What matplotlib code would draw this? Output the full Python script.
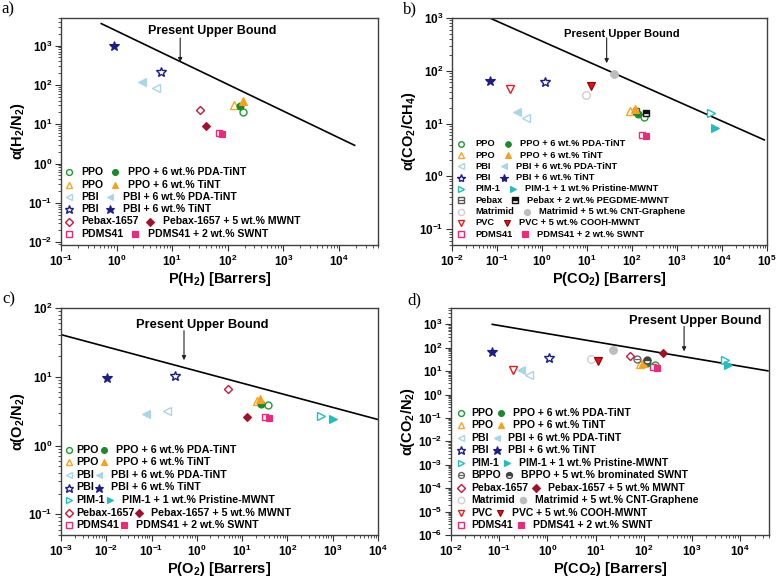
import numpy as np
import matplotlib
matplotlib.use('Agg')
import matplotlib.pyplot as plt
from matplotlib.lines import Line2D
from matplotlib.transforms import IdentityTransform
from matplotlib.ticker import LogLocator, NullFormatter

plt.rcParams.update({
    'font.family': ['Liberation Sans', 'DejaVu Sans'],
    'font.weight': 'bold',
    'mathtext.fontset': 'custom',
    'mathtext.rm': 'Liberation Sans:bold',
    'mathtext.bf': 'Liberation Sans:bold',
    'mathtext.it': 'Liberation Sans:bold:italic',
    'mathtext.default': 'bf',
})

# ---------------- DATA ----------------
# Panel a: H2/N2
a_keys = ['PPO_PDA', 'PPO_TiNT', 'PBI_PDA', 'PBI_TiNT', 'Pebax1657', 'PDMS']
a_open_labels = ['PPO', 'PPO', 'PBI', 'PBI', 'Pebax-1657', 'PDMS41']
a_filled_labels = ['PPO + 6 wt.% PDA-TiNT', 'PPO + 6 wt.% TiNT', 'PBI + 6 wt.% PDA-TiNT',
                   'PBI + 6 wt.% TiNT', 'Pebax-1657 + 5 wt.% MWNT', 'PDMS41 + 2 wt.% SWNT']
a_open_x = [190, 131, 5.2, 6.3, 32, 69]
a_open_y = [21, 31, 85, 218, 23.6, 6.0]
a_filled_x = [166, 190, 2.9, 0.89, 41, 79]
a_filled_y = [28.5, 40, 119, 950, 9.2, 5.6]
a_bound_x = [0.53, 1.9e4]
a_bound_y = [3600, 2.9]

# Panel b: CO2/CH4
b_keys = ['PPO_PDA', 'PPO_TiNT', 'PBI_PDA', 'PBI_TiNT', 'PIM', 'PebaxB', 'Matrimid', 'PVC', 'PDMS']
b_open_labels = ['PPO', 'PPO', 'PBI', 'PBI', 'PIM-1', 'Pebax', 'Matrimid', 'PVC', 'PDMS41']
b_filled_labels = ['PPO + 6 wt.% PDA-TiNT', 'PPO + 6 wt.% TiNT', 'PBI + 6 wt.% PDA-TiNT',
                   'PBI + 6 wt.% TiNT', 'PIM-1 + 1 wt.% Pristine-MWNT', 'Pebax + 2 wt.% PEGDME-MWNT',
                   'Matrimid + 5 wt.% CNT-Graphene', 'PVC + 5 wt.% COOH-MWNT', 'PDMS41 + 2 wt.% SWNT']
b_open_x = [186, 92, 0.44, 1.15, 5800, 120, 9.4, 0.19, 167]
b_open_y = [13.2, 17.2, 13, 60, 16, 17.5, 35, 45, 6.1]
b_filled_x = [134, 118, 0.28, 0.069, 6900, 209, 39, 12, 200]
b_filled_y = [14.9, 18.8, 16.8, 63, 8.3, 15.8, 88, 51, 5.7]
b_bound_x = [0.069, 8.7e4]
b_bound_y = [1000, 4.9]

# Panel c: O2/N2
c_keys = ['PPO_PDA', 'PPO_TiNT', 'PBI_PDA', 'PBI_TiNT', 'PIM', 'Pebax1657', 'PDMS']
c_open_labels = ['PPO', 'PPO', 'PBI', 'PBI', 'PIM-1', 'Pebax-1657', 'PDMS41']
c_filled_labels = ['PPO + 6 wt.% PDA-TiNT', 'PPO + 6 wt.% TiNT', 'PBI + 6 wt.% PDA-TiNT',
                   'PBI + 6 wt.% TiNT', 'PIM-1 + 1 wt.% Pristine-MWNT', 'Pebax-1657 + 5 wt.% MWNT',
                   'PDMS41 + 2 wt.% SWNT']
c_open_x = [37, 21.7, 0.22, 0.33, 556, 4.9, 32]
c_open_y = [3.9, 4.5, 3.2, 10.1, 2.7, 6.7, 2.6]
c_filled_x = [26, 25, 0.074, 0.0106, 1000, 12.6, 39]
c_filled_y = [4.0, 4.8, 2.9, 9.7, 2.4, 2.6, 2.5]
c_bound_x = [1e-3, 1e4]
c_bound_y = [41, 2.39]

# Panel d: CO2/N2
d_keys = ['PPO_PDA', 'PPO_TiNT', 'PBI_PDA', 'PBI_TiNT', 'PIM', 'BPPO', 'Pebax1657', 'Matrimid', 'PVC', 'PDMS']
d_open_labels = ['PPO', 'PPO', 'PBI', 'PBI', 'PIM-1', 'BPPO', 'Pebax-1657', 'Matrimid', 'PVC', 'PDMS41']
d_filled_labels = ['PPO + 6 wt.% PDA-TiNT', 'PPO + 6 wt.% TiNT', 'PBI + 6 wt.% PDA-TiNT',
                   'PBI + 6 wt.% TiNT', 'PIM-1 + 1 wt.% Pristine-MWNT', 'BPPO + 5 wt.% brominated SWNT',
                   'Pebax-1657 + 5 wt.% MWNT', 'Matrimid + 5 wt.% CNT-Graphene',
                   'PVC + 5 wt.% COOH-MWNT', 'PDMS41 + 2 wt.% SWNT']
d_open_x = [168, 82, 0.42, 1.1, 4900, 72, 53, 8.2, 0.19, 155]
d_open_y = [19, 21, 7.1, 38, 29, 34, 44, 34, 11, 15]
d_filled_x = [120, 95, 0.28, 0.072, 5700, 117, 250, 23, 11.5, 185]
d_filled_y = [22, 22, 11.7, 69, 17.5, 30.5, 61, 82, 28.5, 13.8]
d_bound_x = [0.072, 3.8e4]
d_bound_y = [1000, 10.3]

# ---------------- STYLES ----------------
STY = {
    'PPO_PDA':   dict(m='o', c='#1f9a33', cf='#1a8a2c', s=5.0),
    'PPO_TiNT':  dict(m='^', c='#f5a623', cf='#f5a11a', s=5.5),
    'PBI_PDA':   dict(m='<', c='#a9d6e6', cf='#a9d6e6', s=5.5),
    'PBI_TiNT':  dict(m='*', c='#1c1c8a', cf='#1c1c8a', s=7.5),
    'PIM':       dict(m='>', c='#1fbfc0', cf='#1fbfc0', s=5.5),
    'PebaxB':    dict(m='s', c='#555555', cf='#111111', s=4.8, half=True),
    'BPPO':      dict(m='o', c='#666666', cf='#444444', s=5.0, half=True),
    'Pebax1657': dict(m='D', c='#c8163f', cf='#a50f2a', s=4.3),
    'Matrimid':  dict(m='o', c='#cfcfcf', cf='#bdbdbd', s=5.5),
    'PVC':       dict(m='v', c='#e81a1a', cf='#e8101a', s=5.5),
    'PDMS':      dict(m='s', c='#f0287a', cf='#f0287a', s=4.8),
}


def draw_marker(add, x, y, key, filled, scale=1.0, **kw):
    st = STY[key]
    ms = st['s'] * scale
    if not filled:
        add(Line2D(x, y, ls='none', marker=st['m'], ms=ms, mfc='white',
                   mec=st['c'], mew=1.0, **kw))
        if st.get('half'):
            add(Line2D(x, y, ls='none', marker='_', ms=ms, mec=st['c'], mew=0.9, **kw))
    else:
        if st.get('half'):
            add(Line2D(x, y, ls='none', marker=st['m'], ms=ms, fillstyle='top',
                       mfc=st['cf'], mfcalt='white', mec=st['cf'], mew=1.0, **kw))
        else:
            mec = '#8a0000' if key == 'PVC' else st['cf']
            add(Line2D(x, y, ls='none', marker=st['m'], ms=ms, mfc=st['cf'],
                       mec=mec, mew=0.8, **kw))


W, H = 778, 581
fig = plt.figure(figsize=(W / 100, H / 100), dpi=100)


def px_axes(l, t, r, b):
    return fig.add_axes([l / W, 1 - b / H, (r - l) / W, (b - t) / H])


ax_a = px_axes(61, 18, 378, 245)
ax_b = px_axes(452, 18, 767, 245)
ax_c = px_axes(61, 308, 378, 535)
ax_d = px_axes(451, 308, 769, 535)


def setup(ax, xlim, ylim, xlabel, ylabel):
    ax.set_xscale('log')
    ax.set_yscale('log')
    ax.set_xlim(*xlim)
    ax.set_ylim(*ylim)
    for axis in (ax.xaxis, ax.yaxis):
        axis.set_major_locator(LogLocator(base=10, numticks=40))
        axis.set_minor_locator(LogLocator(base=10, subs=np.arange(2, 10), numticks=40))
        axis.set_minor_formatter(NullFormatter())
    ax.tick_params(which='both', direction='out', top=False, right=False,
                   labelsize=8.5, colors='#333333', labelcolor='black')
    ax.tick_params(which='major', length=4, width=0.8, pad=2)
    ax.tick_params(which='minor', length=2.2, width=0.6)
    for sp in ax.spines.values():
        sp.set_color('#404040')
        sp.set_linewidth(1.0)
    ax.set_xlabel(xlabel, fontsize=10.5, fontweight='bold', labelpad=1)
    ax.set_ylabel(ylabel, fontsize=10.5, fontweight='bold', labelpad=1)


def plot_panel(ax, keys, ox, oy, fx, fy, bx, by, text_xy, arrow_x, arrow_y0, arrow_y1, tfs):
    ax.plot(bx, by, color='black', lw=1.2, zorder=2)
    for i, k in enumerate(keys):
        draw_marker(ax.add_line, [ox[i]], [oy[i]], k, False, zorder=3)
        draw_marker(ax.add_line, [fx[i]], [fy[i]], k, True, zorder=4)
    ax.text(text_xy[0], text_xy[1], 'Present Upper Bound', transform=ax.transAxes,
            ha='center', va='center', fontsize=tfs, fontweight='bold')
    ax.annotate('', xy=(arrow_x, arrow_y1), xytext=(arrow_x, arrow_y0),
                xycoords=('axes fraction', 'axes fraction'),
                arrowprops=dict(arrowstyle='-|>', color='#222222', lw=0.8,
                                mutation_scale=6, shrinkA=0, shrinkB=0))


def legend(ax, keys, lo, lf, dx0, dy0, dy, g1, g2, g3, fs, msc):
    r = fig.canvas.get_renderer()
    bb = ax.bbox
    tr = IdentityTransform()
    for i, k in enumerate(keys):
        y = bb.y1 - dy0 - i * dy
        x = bb.x0 + dx0
        draw_marker(fig.add_artist, [x], [y], k, False, scale=msc, transform=tr)
        t = fig.text(x + g1, y, lo[i], transform=tr, ha='left', va='center',
                     fontsize=fs, fontweight='bold')
        x2 = t.get_window_extent(r).x1 + g2
        draw_marker(fig.add_artist, [x2], [y], k, True, scale=msc, transform=tr)
        fig.text(x2 + g3, y, lf[i], transform=tr, ha='left', va='center',
                 fontsize=fs, fontweight='bold')


# Panel a
setup(ax_a, (0.1, 5e4), (0.0085, 5000), 'P(H$_2$) [Barrers]', 'α(H$_2$/N$_2$)')
plot_panel(ax_a, a_keys, a_open_x, a_open_y, a_filled_x, a_filled_y, a_bound_x, a_bound_y,
           (0.476, 0.943), 0.376, 0.912, 0.806, 9)
# Panel b
setup(ax_b, (0.01, 1e5), (0.05, 1000), 'P(CO$_2$) [Barrers]', 'α(CO$_2$/CH$_4$)')
plot_panel(ax_b, b_keys, b_open_x, b_open_y, b_filled_x, b_filled_y, b_bound_x, b_bound_y,
           (0.538, 0.929), 0.491, 0.913, 0.801, 8.1)
# Panel c
setup(ax_c, (1e-3, 1e4), (0.05, 100), 'P(O$_2$) [Barrers]', 'α(O$_2$/N$_2$)')
plot_panel(ax_c, c_keys, c_open_x, c_open_y, c_filled_x, c_filled_y, c_bound_x, c_bound_y,
           (0.447, 0.926), 0.388, 0.900, 0.770, 9.3)
# Panel d
setup(ax_d, (0.01, 4e4), (1e-6, 5000), 'P(CO$_2$) [Barrers]', 'α(CO$_2$/N$_2$)')
plot_panel(ax_d, d_keys, d_open_x, d_open_y, d_filled_x, d_filled_y, d_bound_x, d_bound_y,
           (0.769, 0.941), 0.733, 0.919, 0.809, 9.3)

legend(ax_a, a_keys, a_open_labels, a_filled_labels, 7.5, 154.3, 12.3, 13, 11, 13, 7.6, 0.85)
legend(ax_b, b_keys, b_open_labels, b_filled_labels, 9, 125.7, 11.3, 14, 13, 12, 6.7, 0.8)
legend(ax_c, c_keys, c_open_labels, c_filled_labels, 8, 141.7, 12.6, 7, 5, 12, 7.7, 0.85)
legend(ax_d, d_keys, d_open_labels, d_filled_labels, 10, 104.7, 12.5, 10, 8, 12, 7.5, 0.85)

serif = ['Liberation Serif', 'DejaVu Serif']
for lab, (px, py) in zip(['a)', 'b)', 'c)', 'd)'], [(1, 1), (403, 1), (2, 291), (407, 292)]):
    fig.text(px / W, 1 - py / H, lab, ha='left', va='top', fontsize=12,
             fontweight='normal', family=serif)

fig.savefig('out.png', dpi=100)
